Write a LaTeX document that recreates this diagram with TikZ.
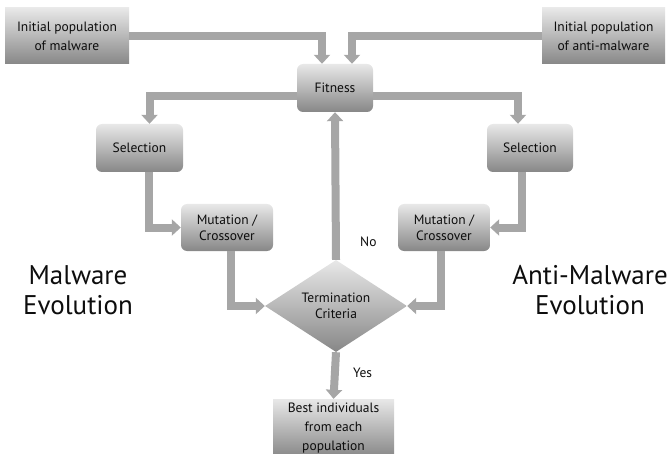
\documentclass[tikz,border=0pt]{standalone}
\usepackage{fontspec}
\setmainfont{PT Sans}
\usetikzlibrary{shapes.geometric,arrows.meta,positioning}
\tikzset{
  shade box/.style={top color=black!9,bottom color=black!47,text=black!95,align=center,inner sep=0pt},
  initbox/.style={shade box,minimum width=124pt,minimum height=56pt,font=\fontsize{13.5}{19}\selectfont},
  stagebox/.style={shade box,rounded corners=6pt,minimum height=48pt,font=\fontsize{13.5}{16}\selectfont},
  decision/.style={shade box,diamond,minimum width=142pt,minimum height=92pt,aspect=1.55,font=\fontsize{13.5}{15.5}\selectfont},
  flow/.style={draw=black!35,line width=8pt,-{Triangle[width=16pt,length=9pt]}},
  side/.style={font=\fontsize{27}{30}\selectfont,align=center,text=black!95}
}
\begin{document}
\begin{tikzpicture}[x=1pt,y=-1pt]
  \useasboundingbox (0,0) rectangle (668,454);
  \node[initbox] (initm) at (67,36) {Initial population\\of malware};
  \node[initbox,minimum width=123pt] (inita) at (603.5,36) {Initial population\\of anti-malware};
  \node[stagebox,minimum width=76pt] (fit) at (335,88) {Fitness};
  \node[stagebox,minimum width=87pt] (selm) at (139.5,148) {Selection};
  \node[stagebox,minimum width=86pt] (sela) at (530,148) {Selection};
  \node[stagebox,minimum width=92pt,minimum height=47pt] (mutm) at (227,227.5) {Mutation /\\Crossover};
  \node[stagebox,minimum width=92pt,minimum height=47pt] (muta) at (444,227.5) {Mutation /\\Crossover};
  \node[decision] (term) at (336,306) {Termination\\Criteria};
  \node[initbox,minimum width=121pt,minimum height=58pt] (best) at (333.5,428) {Best individuals\\from each\\population};
  \node[side] (evm) at (78,290) {Malware\\Evolution};
  \node[side] (eva) at (590,290) {Anti-Malware\\Evolution};

  \draw[flow] (initm.east) -| ([xshift=-13pt]fit.north);
  \draw[flow] (inita.west) -| ([xshift=17pt]fit.north);
  \draw[flow] ([yshift=-8pt]fit.west) -| ([xshift=10pt]selm.north);
  \draw[flow] ([yshift=-8pt]fit.east) -| ([xshift=-12pt]sela.north);
  \draw[flow] ([xshift=9pt]selm.south) |- (mutm.west);
  \draw[flow] ([xshift=-8pt]sela.south) |- (muta.east);
  \draw[flow] ([xshift=4pt]mutm.south) |- (term.west);
  \draw[flow] ([xshift=-3pt]muta.south) |- (term.east);
  \draw[flow] (term.north) -- (fit.south) node[pos=0.12,right=17pt,font=\fontsize{13.5}{15}\selectfont,text=black!95] {No};
  \draw[flow] (term.south) -- (best.north) node[pos=0.45,right=11pt,font=\fontsize{13.5}{15}\selectfont,text=black!95] {Yes};
\end{tikzpicture}
\end{document}
